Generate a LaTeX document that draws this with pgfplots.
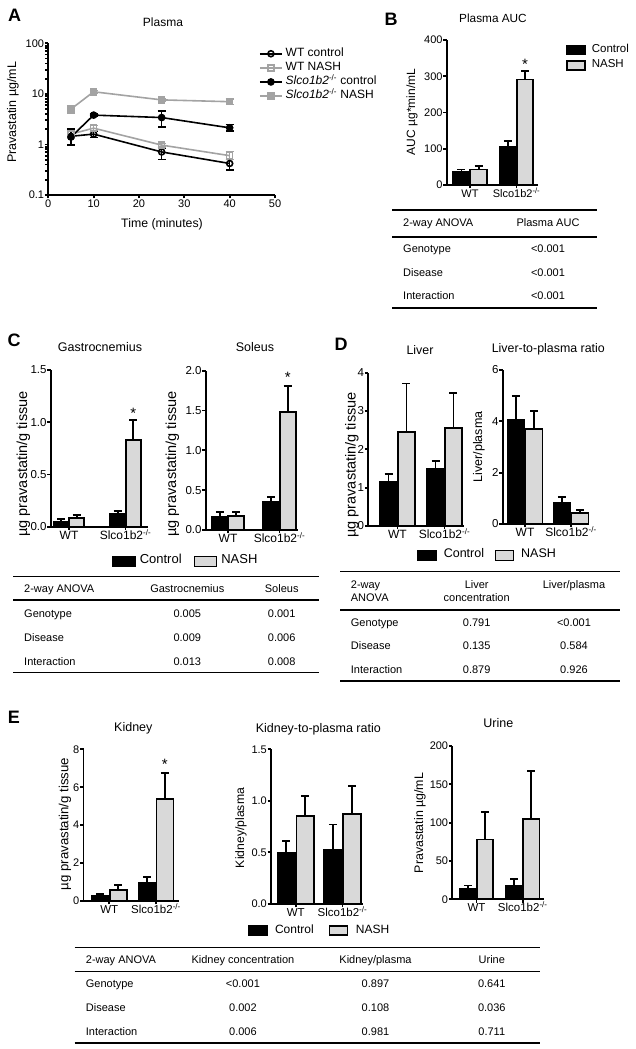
\documentclass[border=0pt]{standalone}
\usepackage{fontspec}
\setmainfont{Liberation Sans}
\usepackage{pgfplots}
\pgfplotsset{compat=1.18}

\definecolor{nashgray}{HTML}{D9D9D9}
\definecolor{linegray}{HTML}{A3A3A3}

\newcommand{\fs}[1]{\fontsize{#1}{#1}\selectfont}
\newcommand{\ko}{Slco1b2\textsuperscript{-/-}}
% helpers: x and y in pixels, y counted from the top edge
\newcommand{\tx}[5]{\node[anchor=#1,inner sep=0pt,font=\fs{#4}] at ({#2pt},{(1049-#3-0.358*#4)*1pt}) {#5};}
\newcommand{\ry}[4]{\node[rotate=90,anchor=base,inner sep=0pt,font=\fs{#3}] at ({(#1+0.25*#3)*1pt},{(1049-#2)*1pt}) {#4};}
\newcommand{\hl}[3]{\draw[line width=1.6pt] ({#1pt},{(1049-#3)*1pt}) -- ({#2pt},{(1049-#3)*1pt});}

\pgfplotsset{
  gp/.style={scale only axis, axis lines=left, axis line style={-,line width=1.8pt},
    tick align=outside, tick pos=left, major tick length=3.5pt,
    tick style={line width=1.8pt,black}, clip=false,
    y tick label style={inner sep=0.5pt}, x tick label style={inner sep=1.5pt},
    /pgf/number format/assume math mode=true},
  gpbar/.style={gp, ymin=0, xtick={0,1}, xticklabels={WT,\ko},
    x tick label style={text height=0.75em,text depth=0.2em}},
  ctrl/.style={ybar, bar width=#1, bar shift=0pt, draw=black, fill=black, line width=1.8pt,
    error bars/y dir=plus, error bars/y explicit,
    error bars/error bar style={line width=1.8pt,black,solid},
    error bars/error mark options={rotate=90,mark size=4pt,line width=1.8pt,black}},
  nash/.style={ctrl=#1, fill=nashgray},
  lg/.style 2 args={legend image code/.code={\draw[##1,line width=1.6pt] (0pt,-#2) rectangle (#1,#2);}},
  hleg/.style={legend columns=2, legend style={draw=none, fill=none, inner sep=0pt, anchor=west,
    nodes={inner sep=1pt, text height=0.75em, text depth=0.25em}}},
  errA/.style={line width=1.6pt, error bars/y dir=both, error bars/y explicit,
    error bars/error bar style={line width=1.6pt,solid},
    error bars/error mark options={rotate=90,mark size=4pt,line width=1.6pt}},
}

\begin{document}
\begin{tikzpicture}
\useasboundingbox (0pt,0pt) rectangle (636pt,1049pt);

% ---------------- A: plasma time course
\begin{axis}[gp, at={(48.3pt,854pt)}, anchor=south west, width=226.7pt, height=151.7pt,
  xmin=0, xmax=50, ymode=log, ymin=0.1, ymax=100,
  xtick={0,10,20,30,40,50}, xticklabels={0,10,20,30,40,50},
  ytick={0.1,1,10,100}, yticklabels={0.1,1,10,100},
  tick label style={font=\fs{11}},
  legend image code/.code={\draw[mark repeat=2,mark phase=2,#1] plot coordinates {(0pt,0pt) (11pt,0pt) (22pt,0pt)};},
  legend style={at={(0.929,0.972)}, anchor=north west, draw=none, fill=none, inner sep=0pt,
    font=\fs{12}, row sep=2.1pt, nodes={inner sep=1pt, text height=0.75em, text depth=0.25em},
    /tikz/every odd column/.append style={column sep=2pt}},
  legend cell align=left]
\addplot[errA, black, mark=o, mark size=3pt, mark options={solid,fill=white}]
  coordinates {(5,1.45) += (0,0.55) -= (0,0.5) (10,1.6) += (0,0.2) -= (0,0.22)
               (25,0.71) += (0,0.15) -= (0,0.21) (40,0.42) += (0,0.08) -= (0,0.11)};
\addlegendentry{WT control}
\addplot[errA, linegray, mark=square, mark size=3pt, mark options={solid,fill=white}]
  coordinates {(5,1.6) += (0,0.3) -= (0,0.3) (10,2.1) += (0,0.25) -= (0,0.2)
               (25,0.97) += (0,0.08) -= (0,0.08) (40,0.6) += (0,0.12) -= (0,0.1)};
\addlegendentry{WT NASH}
\addplot[errA, black, mark=*, mark size=3pt]
  coordinates {(5,1.4) += (0,0.45) -= (0,0.4) (10,3.8) += (0,0.2) -= (0,0.2)
               (25,3.4) += (0,1.2) -= (0,1.2) (40,2.13) += (0,0.35) -= (0,0.3)};
\addlegendentry{\textit{Slco1b2}\textsuperscript{-/-} control}
\addplot[errA, linegray, mark=square*, mark size=3pt]
  coordinates {(5,5.0) += (0,0.9) -= (0,0.8) (10,11) += (0,0.7) -= (0,0.7)
               (25,7.6) += (0,0.5) -= (0,0.5) (40,7.0) += (0,0.9) -= (0,0.8)};
\addlegendentry{\textit{Slco1b2}\textsuperscript{-/-} NASH}
\end{axis}

% ---------------- B: plasma AUC
\begin{axis}[gpbar, at={(446.7pt,864pt)}, anchor=south west, width=91.3pt, height=145pt,
  xmin=-0.501, xmax=1.462, ymax=400,
  ytick={0,100,200,300,400}, yticklabels={0,100,200,300,400},
  tick label style={font=\fs{11}},
  legend style={at={(1.307,0.975)}, anchor=north west, draw=none, fill=none, inner sep=0pt,
    font=\fs{11.5}, row sep=3.5pt, nodes={inner sep=1pt, text height=0.75em, text depth=0.25em},
    /tikz/every odd column/.append style={column sep=5pt}},
  legend cell align=left]
\addplot[ctrl=16.5pt, lg={18pt}{4.5pt}] coordinates {(-0.185,35) +- (0,8) (0.815,106) +- (0,15)};
\addlegendentry{Control}
\addplot[nash=16.5pt, lg={18pt}{4.5pt}] coordinates {(0.185,43) +- (0,9) (1.185,291) +- (0,23)};
\addlegendentry{NASH}
\node[anchor=base,inner sep=0pt,font=\fs{15}] at (axis cs:1.185,318) {*};
\end{axis}

% ---------------- C: gastrocnemius
\begin{axis}[gpbar, at={(50.7pt,522.3pt)}, anchor=south west, width=97.6pt, height=156.7pt,
  xmin=-0.324, xmax=1.404, ymax=1.5,
  ytick={0,0.5,1,1.5}, yticklabels={0.0,0.5,1.0,1.5},
  y tick label style={font=\fs{11.5}}, x tick label style={font=\fs{12}}]
\addplot[ctrl=15pt] coordinates {(-0.137,0.05) +- (0,0.02) (0.863,0.12) +- (0,0.03)};
\addplot[nash=15pt] coordinates {(0.137,0.08) +- (0,0.03) (1.137,0.83) +- (0,0.19)};
\node[anchor=base,inner sep=0pt,font=\fs{15}] at (axis cs:1.137,1.04) {*};
\end{axis}

% ---------------- C: soleus
\begin{axis}[gpbar, hleg, at={(205.7pt,519pt)}, anchor=south west, width=92.6pt, height=159.3pt,
  xmin=-0.433, xmax=1.365, ymax=2,
  ytick={0,0.5,1,1.5,2}, yticklabels={0.0,0.5,1.0,1.5,2.0},
  y tick label style={font=\fs{11.5}}, x tick label style={font=\fs{12}},
  legend style={at={(-1.012,-0.197)}, font=\fs{13},
    /tikz/every odd column/.append style={column sep=3pt},
    /tikz/every even column/.append style={column sep=11pt}}]
\addplot[ctrl=16pt, lg={22pt}{5pt}] coordinates {(-0.16,0.16) +- (0,0.07) (0.84,0.35) +- (0,0.06)};
\addlegendentry{Control}
\addplot[nash=16pt, lg={22pt}{5pt}] coordinates {(0.16,0.18) +- (0,0.05) (1.16,1.48) +- (0,0.33)};
\addlegendentry{NASH}
\node[anchor=base,inner sep=0pt,font=\fs{15}] at (axis cs:1.16,1.85) {*};
\end{axis}

% ---------------- D: liver
\begin{axis}[gpbar, at={(368.3pt,523pt)}, anchor=south west, width=95.7pt, height=153.3pt,
  xmin=-0.621, xmax=1.415, ymax=4,
  ytick={0,1,2,3,4}, yticklabels={0,1,2,3,4},
  y tick label style={font=\fs{11.5}}, x tick label style={font=\fs{12}}]
\addplot[ctrl=17pt] coordinates {(-0.19,1.16) +- (0,0.2) (0.81,1.48) +- (0,0.22)};
\addplot[nash=17pt] coordinates {(0.19,2.46) +- (0,1.26) (1.19,2.55) +- (0,0.91)};
\end{axis}

% ---------------- D: liver-to-plasma ratio
\begin{axis}[gpbar, hleg, at={(502.7pt,525pt)}, anchor=south west, width=85.6pt, height=154pt,
  xmin=-0.485, xmax=1.376, ymax=6,
  ytick={0,2,4,6}, yticklabels={0,2,4,6},
  y tick label style={font=\fs{11.5}}, x tick label style={font=\fs{12}},
  legend style={at={(-1.001,-0.204)}, font=\fs{12.5},
    /tikz/every odd column/.append style={column sep=6pt},
    /tikz/every even column/.append style={column sep=9.5pt}}]
\addplot[ctrl=17pt, lg={18pt}{5pt}] coordinates {(-0.196,4.05) +- (0,0.94) (0.804,0.83) +- (0,0.23)};
\addlegendentry{Control}
\addplot[nash=17pt, lg={18pt}{5pt}] coordinates {(0.196,3.70) +- (0,0.70) (1.196,0.42) +- (0,0.13)};
\addlegendentry{NASH}
\end{axis}

% ---------------- E: kidney
\begin{axis}[gpbar, at={(83.5pt,148pt)}, anchor=south west, width=95pt, height=151.7pt,
  xmin=-0.553, xmax=1.481, ymax=8,
  ytick={0,2,4,6,8}, yticklabels={0,2,4,6,8},
  y tick label style={font=\fs{11}}, x tick label style={font=\fs{11.5}}]
\addplot[ctrl=17pt] coordinates {(-0.19,0.26) +- (0,0.09) (0.81,0.95) +- (0,0.33)};
\addplot[nash=17pt] coordinates {(0.19,0.56) +- (0,0.28) (1.19,5.37) +- (0,1.37)};
\node[anchor=base,inner sep=0pt,font=\fs{15}] at (axis cs:1.19,6.95) {*};
\end{axis}

% ---------------- E: kidney-to-plasma ratio
\begin{axis}[gpbar, hleg, at={(271pt,145.2pt)}, anchor=south west, width=92pt, height=154.5pt,
  xmin=-0.53, xmax=1.439, ymax=1.5,
  ytick={0,0.5,1,1.5}, yticklabels={0.0,0.5,1.0,1.5},
  y tick label style={font=\fs{11}}, x tick label style={font=\fs{11.5}},
  legend style={at={(-0.2526,-0.1735)}, font=\fs{12},
    /tikz/every odd column/.append style={column sep=6.5pt},
    /tikz/every even column/.append style={column sep=14pt}}]
\addplot[ctrl=17.5pt, lg={18pt}{4.5pt}] coordinates {(-0.204,0.49) +- (0,0.12) (0.796,0.52) +- (0,0.25)};
\addlegendentry{Control}
\addplot[nash=17.5pt, lg={18pt}{4.5pt}] coordinates {(0.204,0.85) +- (0,0.2) (1.204,0.87) +- (0,0.27)};
\addlegendentry{NASH}
\end{axis}

% ---------------- E: urine
\begin{axis}[gpbar, at={(452.3pt,149.7pt)}, anchor=south west, width=91.7pt, height=153.3pt,
  xmin=-0.523, xmax=1.458, ymax=200,
  ytick={0,50,100,150,200}, yticklabels={0,50,100,150,200},
  y tick label style={font=\fs{11}}, x tick label style={font=\fs{11.5}}]
\addplot[ctrl=16.5pt] coordinates {(-0.184,14) +- (0,4) (0.816,18) +- (0,9)};
\addplot[nash=16.5pt] coordinates {(0.184,78) +- (0,36) (1.184,105) +- (0,62)};
\end{axis}

% ---------------- panel letters, titles, axis labels
\tx{base}{14.5}{15}{18}{\bfseries A}
\tx{base}{391}{19}{18}{\bfseries B}
\tx{base}{14}{340}{18}{\bfseries C}
\tx{base}{341}{344}{18}{\bfseries D}
\tx{base}{14}{717.5}{18}{\bfseries E}

\tx{base}{163}{22.5}{12}{Plasma}
\tx{base}{162}{223}{12.3}{Time (minutes)}
\tx{base}{493}{18}{11.8}{Plasma AUC}
\tx{base}{100}{347}{12.5}{Gastrocnemius}
\tx{base}{255}{347}{12.5}{Soleus}
\tx{base}{420}{350}{12.4}{Liver}
\tx{base}{548.3}{348.3}{12.4}{Liver-to-plasma ratio}
\tx{base}{133.3}{726.7}{12.5}{Kidney}
\tx{base}{318.3}{728.3}{12.5}{Kidney-to-plasma ratio}
\tx{base}{498.3}{723.3}{12.5}{Urine}

\ry{13}{112.5}{12.5}{Pravastatin µg/mL}
\ry{412}{112}{12}{AUC µg*min/mL}
\ry{23.5}{464}{14.5}{µg pravastatin/g tissue}
\ry{172.5}{464}{14.5}{µg pravastatin/g tissue}
\ry{352}{465}{14.5}{µg pravastatin/g tissue}
\ry{479}{447}{12.5}{Liver/plasma}
\ry{65}{824}{13.2}{µg pravastatin/g tissue}
\ry{241}{828}{12.2}{Kidney/plasma}
\ry{420}{823}{12.4}{Pravastatin µg/mL}

% ---------------- tables
% B
\hl{392}{597}{210}\hl{392}{597}{237}\hl{392}{597}{308}
\tx{base west}{403}{222.7}{11}{2-way ANOVA}
\tx{base}{548}{222.7}{11}{Plasma AUC}
\tx{base west}{403}{248.3}{11}{Genotype}    \tx{base}{548}{248.3}{11}{<0.001}
\tx{base west}{403}{272.7}{11}{Disease}     \tx{base}{548}{272.7}{11}{<0.001}
\tx{base west}{403}{296}{11}{Interaction}   \tx{base}{548}{296}{11}{<0.001}
% C
\hl{13.3}{319.3}{576.7}\hl{13.3}{319.3}{600}\hl{13.3}{319.3}{672.7}
\tx{base west}{24}{589}{11}{2-way ANOVA}
\tx{base}{187.3}{589}{11}{Gastrocnemius}
\tx{base}{281.7}{589}{11}{Soleus}
\tx{base west}{24}{614}{11}{Genotype}      \tx{base}{187.3}{614}{11}{0.005}   \tx{base}{281.7}{614}{11}{0.001}
\tx{base west}{24}{637.7}{11}{Disease}     \tx{base}{187.3}{637.7}{11}{0.009} \tx{base}{281.7}{637.7}{11}{0.006}
\tx{base west}{24}{661.7}{11}{Interaction} \tx{base}{187.3}{661.7}{11}{0.013} \tx{base}{281.7}{661.7}{11}{0.008}
% D
\hl{340}{620}{571.7}\hl{340}{620}{610}\hl{340}{620}{681}
\tx{base west}{350.7}{585}{11}{2-way}
\tx{base west}{350.7}{598}{11}{ANOVA}
\tx{base}{476.7}{585}{11}{Liver}
\tx{base}{476.7}{598}{11}{concentration}
\tx{base}{574}{585}{11}{Liver/plasma}
\tx{base west}{350.7}{622.7}{11}{Genotype}  \tx{base}{476.7}{622.7}{11}{0.791} \tx{base}{574}{622.7}{11}{<0.001}
\tx{base west}{350.7}{646}{11}{Disease}     \tx{base}{476.7}{646}{11}{0.135}   \tx{base}{574}{646}{11}{0.584}
\tx{base west}{350.7}{670}{11}{Interaction} \tx{base}{476.7}{670}{11}{0.879}   \tx{base}{574}{670}{11}{0.926}
% E
\hl{74.7}{540}{947.7}\hl{74.7}{540}{971.7}\hl{74.7}{540}{1043}
\tx{base west}{85.7}{960}{11}{2-way ANOVA}
\tx{base}{242.9}{960}{11}{Kidney concentration}
\tx{base}{375.5}{960}{11}{Kidney/plasma}
\tx{base}{491.8}{960}{11}{Urine}
\tx{base west}{85.7}{984}{11}{Genotype}     \tx{base}{242.9}{984}{11}{<0.001} \tx{base}{375.5}{984}{11}{0.897} \tx{base}{491.8}{984}{11}{0.641}
\tx{base west}{85.7}{1008}{11}{Disease}     \tx{base}{242.9}{1008}{11}{0.002} \tx{base}{375.5}{1008}{11}{0.108} \tx{base}{491.8}{1008}{11}{0.036}
\tx{base west}{85.7}{1032}{11}{Interaction} \tx{base}{242.9}{1032}{11}{0.006} \tx{base}{375.5}{1032}{11}{0.981} \tx{base}{491.8}{1032}{11}{0.711}
\end{tikzpicture}
\end{document}
